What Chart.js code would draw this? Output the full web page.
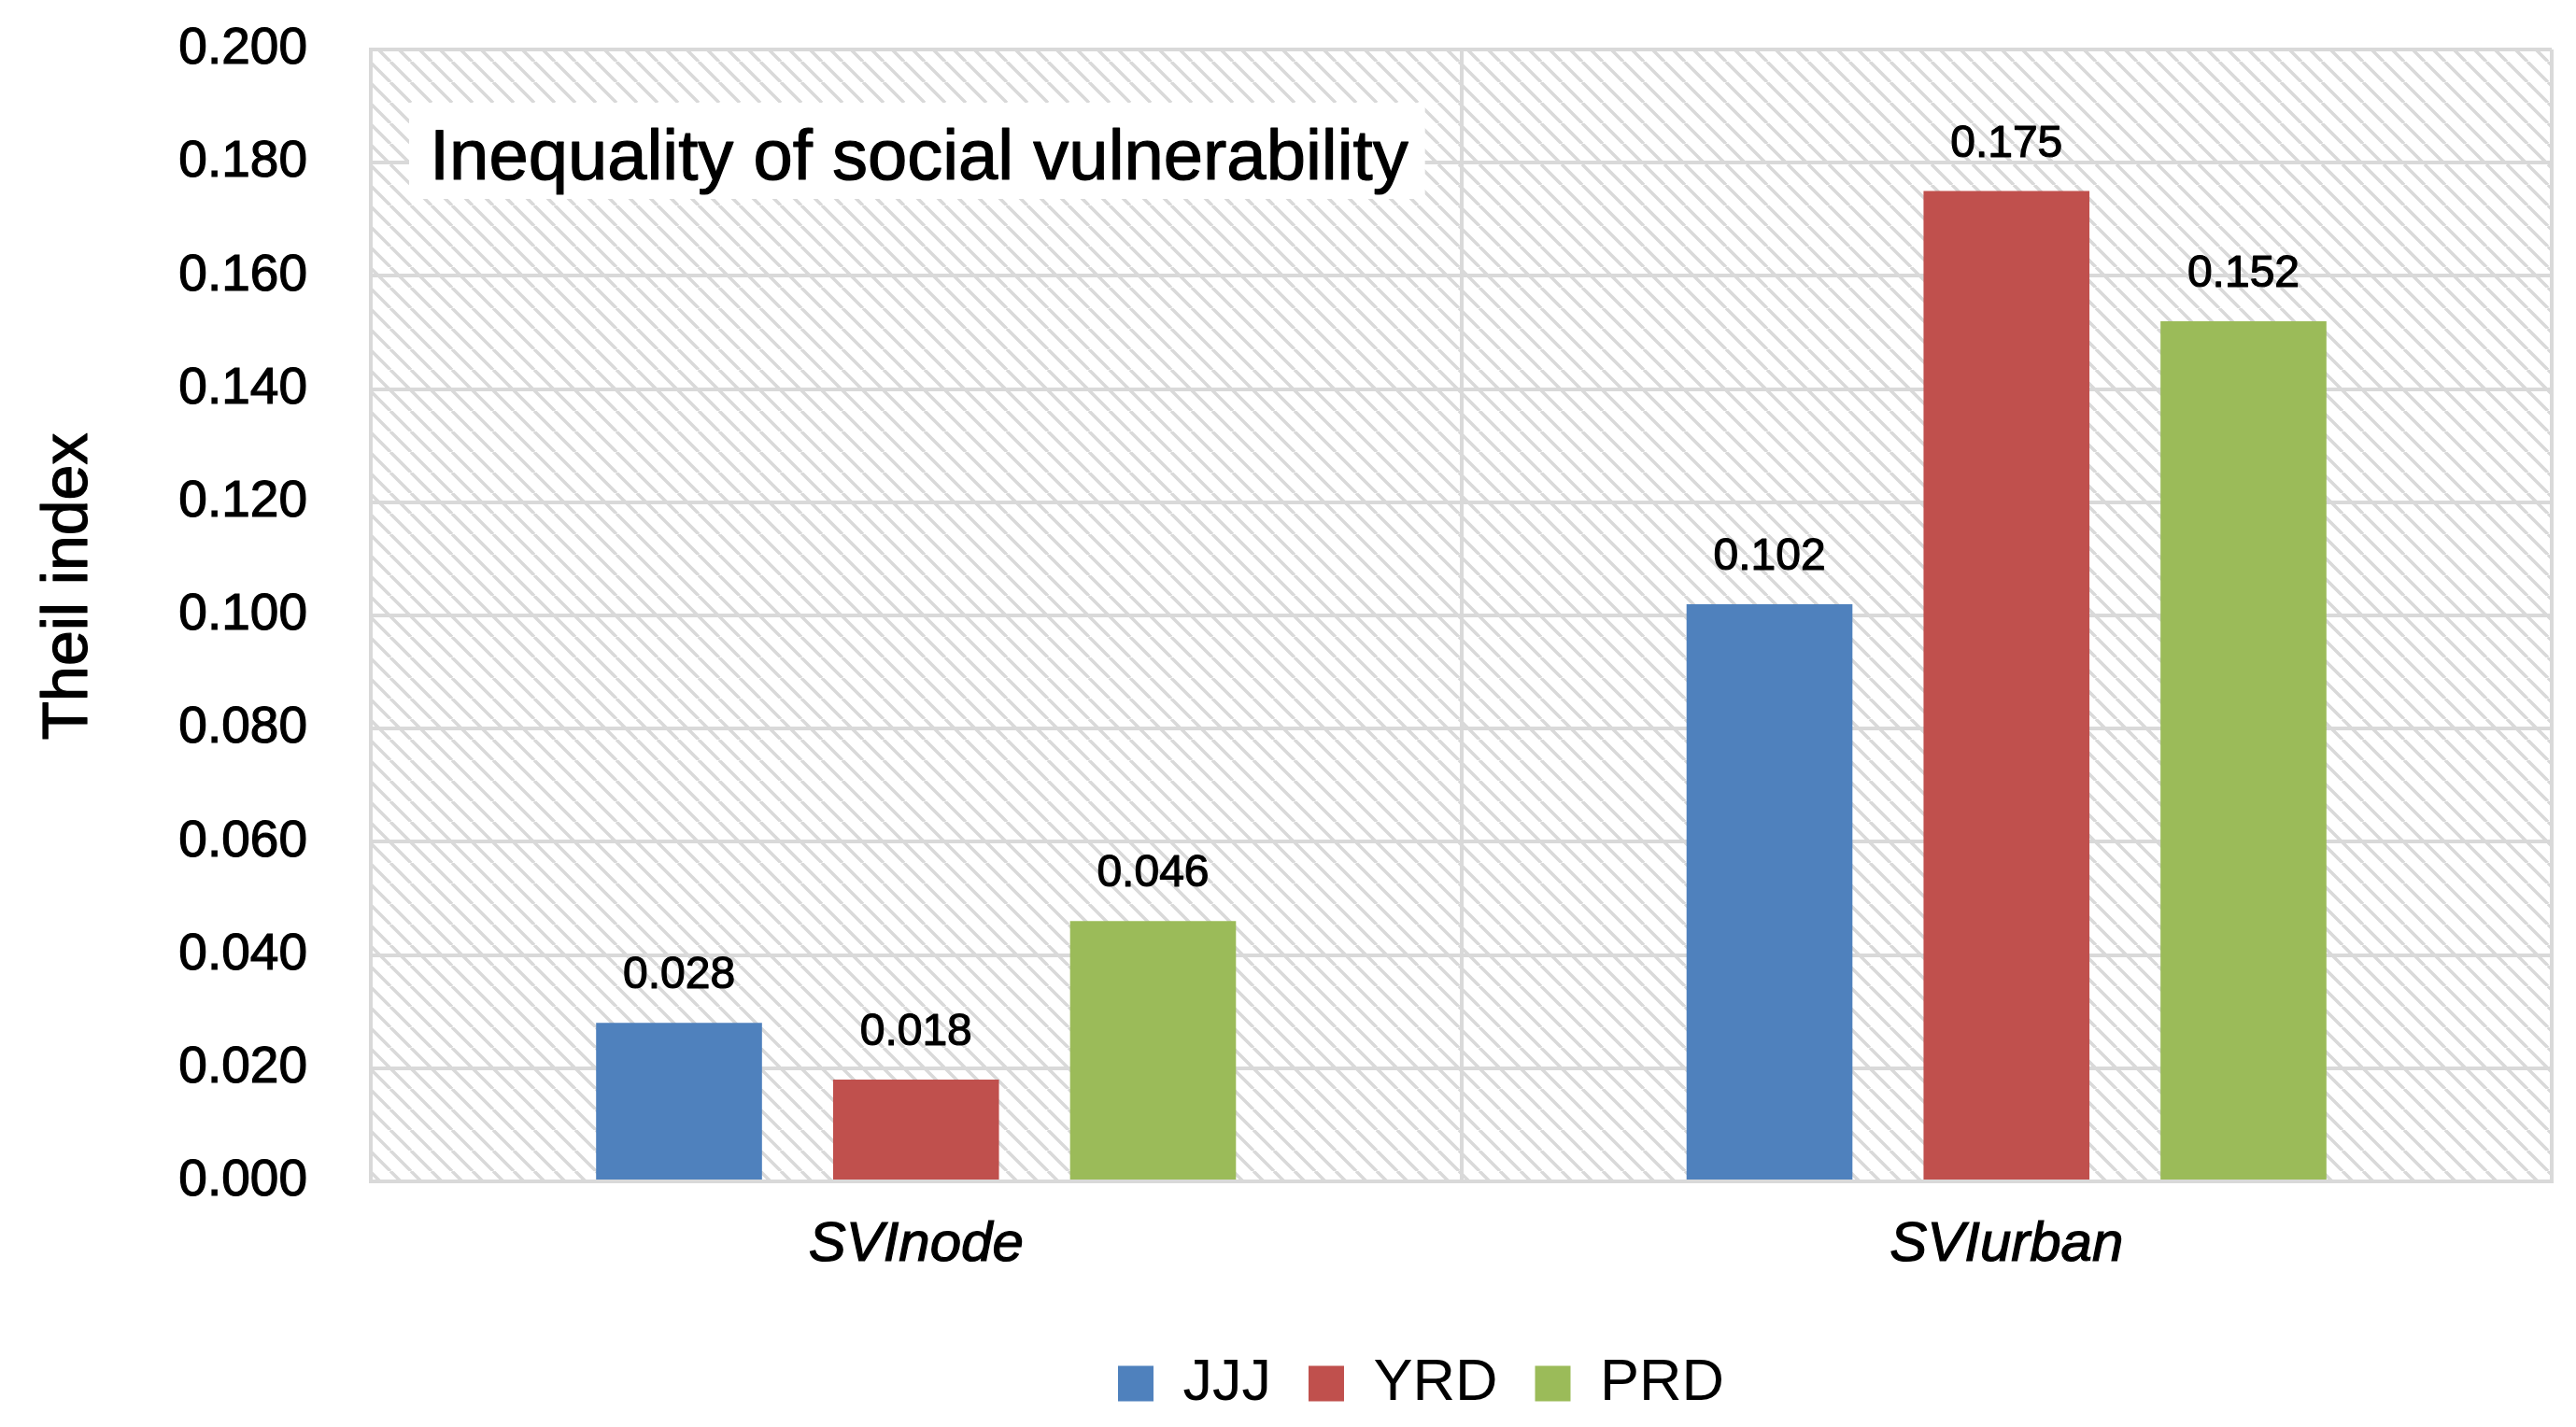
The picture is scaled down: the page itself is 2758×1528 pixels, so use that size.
<!DOCTYPE html>
<html>
<head>
<meta charset="utf-8">
<script src="https://cdn.jsdelivr.net/npm/chart.js@4.4.1/dist/chart.umd.min.js"></script>
<style>
  html, body { margin: 0; padding: 0; background: #ffffff; }
  #wrap { width: 2758px; height: 1528px; position: relative; }
</style>
</head>
<body>
<div id="wrap"><canvas id="c"></canvas></div>
<script>
// ---- data ----
const categories = ['SVInode', 'SVIurban'];
const seriesNames = ['JJJ', 'YRD', 'PRD'];
const jjjValues = [0.028, 0.102];
const yrdValues = [0.018, 0.175];
const prdValues = [0.046, 0.152];
const seriesColors = ['#4F81BD', '#C0504D', '#9BBB59'];
const yMin = 0.000;
const yMax = 0.200;
const yStep = 0.020;
const chartTitle = 'Inequality of social vulnerability';
const yAxisTitle = 'Theil index';

const FAMILY = '"Liberation Sans", Arial, Helvetica, sans-serif';
Chart.defaults.font.family = FAMILY;
Chart.defaults.color = '#000000';

const GRID = '#d9d9d9';
const STROKE = 1.2;

const hatchPlugin = {
  id: 'hatch',
  beforeDraw(chart) {
    const { ctx, chartArea: a } = chart;
    const s = 22;
    const tile = document.createElement('canvas');
    tile.width = s; tile.height = s;
    const t = tile.getContext('2d');
    t.fillStyle = '#ffffff';
    t.fillRect(0, 0, s, s);
    t.strokeStyle = GRID;
    t.lineWidth = 3.5;
    for (const k of [-1, 0, 1]) {
      t.beginPath();
      t.moveTo(k * s, 0);
      t.lineTo(k * s + s, s);
      t.stroke();
    }
    ctx.save();
    ctx.fillStyle = '#ffffff';
    ctx.fillRect(0, 0, chart.width, chart.height);
    ctx.fillStyle = ctx.createPattern(tile, 'repeat');
    ctx.fillRect(a.left, a.top, a.right - a.left, a.bottom - a.top);
    ctx.restore();
  }
};

const legendShiftPlugin = {
  id: 'legendShift',
  afterLayout(chart) {
    const lg = chart.legend;
    if (lg) { lg.left -= 43; lg.right -= 43; }
  }
};

function drawText(ctx, text, x, y) {
  ctx.lineWidth = STROKE;
  ctx.strokeStyle = '#000000';
  ctx.lineJoin = 'round';
  ctx.strokeText(text, x, y);
  ctx.fillText(text, x, y);
}

const labelPlugin = {
  id: 'valueLabels',
  afterDatasetsDraw(chart) {
    const { ctx, chartArea: a } = chart;
    ctx.save();
    // y axis title
    ctx.save();
    ctx.font = '68px ' + FAMILY;
    ctx.fillStyle = '#000000';
    ctx.textAlign = 'center';
    ctx.textBaseline = 'middle';
    ctx.translate(74, (a.top + a.bottom) / 2 - 31);
    ctx.rotate(-Math.PI / 2);
    drawText(ctx, yAxisTitle, 0, 0);
    ctx.restore();
    // annotation box with title
    ctx.font = '76px ' + FAMILY;
    const w = ctx.measureText(chartTitle).width;
    const bx = a.left + 41, by = a.top + 57;
    ctx.fillStyle = '#ffffff';
    ctx.fillRect(bx, by, w + 40, 103);
    ctx.fillStyle = '#000000';
    ctx.textAlign = 'left';
    ctx.textBaseline = 'alphabetic';
    drawText(ctx, chartTitle, bx + 22, by + 82);
    // value labels
    ctx.font = '48px ' + FAMILY;
    ctx.textAlign = 'center';
    chart.data.datasets.forEach((ds, i) => {
      const meta = chart.getDatasetMeta(i);
      meta.data.forEach((bar, j) => {
        drawText(ctx, ds.data[j].toFixed(3), bar.x, bar.y - 37);
      });
    });
    ctx.restore();
  }
};

const seriesValues = [jjjValues, yrdValues, prdValues];

new Chart(document.getElementById('c'), {
  type: 'bar',
  data: {
    labels: categories,
    datasets: seriesNames.map((name, i) => ({
      label: name,
      data: seriesValues[i],
      backgroundColor: seriesColors[i],
      borderWidth: 0,
      categoryPercentage: 0.652,
      barPercentage: 0.70
    }))
  },
  options: {
    responsive: true,
    maintainAspectRatio: false,
    animation: false,
    devicePixelRatio: 1,
    layout: { padding: { top: 53, right: 26, bottom: 5, left: 10 } },
    plugins: {
      legend: {
        position: 'bottom',
        fullSize: false,
        labels: {
          font: { size: 63, family: FAMILY },
          color: '#000000',
          boxWidth: 38,
          boxHeight: 38,
          padding: 40
        }
      },
      tooltip: { enabled: false },
      title: { display: false }
    },
    scales: {
      x: {
        grid: { color: GRID, lineWidth: 4, drawTicks: false, offset: true },
        border: { color: GRID, width: 4 },
        ticks: {
          font: { size: 60, style: 'italic', family: FAMILY },
          color: '#000000',
          padding: 32,
          textStrokeColor: '#000000',
          textStrokeWidth: STROKE
        },
        afterFit(scale) { scale.height += 9; }
      },
      y: {
        min: yMin,
        max: yMax,
        ticks: {
          stepSize: yStep,
          callback: (v) => Number(v).toFixed(3),
          font: { size: 55, family: FAMILY },
          color: '#000000',
          padding: 0,
          textStrokeColor: '#000000',
          textStrokeWidth: STROKE
        },
        grid: { color: GRID, lineWidth: 4, drawTicks: true, tickLength: 68, tickColor: 'rgba(0,0,0,0)' },
        border: { color: GRID, width: 4 },
        title: { display: false, text: yAxisTitle },
        afterFit(scale) { scale.width = 387; }
      }
    }
  },
  plugins: [hatchPlugin, legendShiftPlugin, labelPlugin]
});
</script>
</body>
</html>
